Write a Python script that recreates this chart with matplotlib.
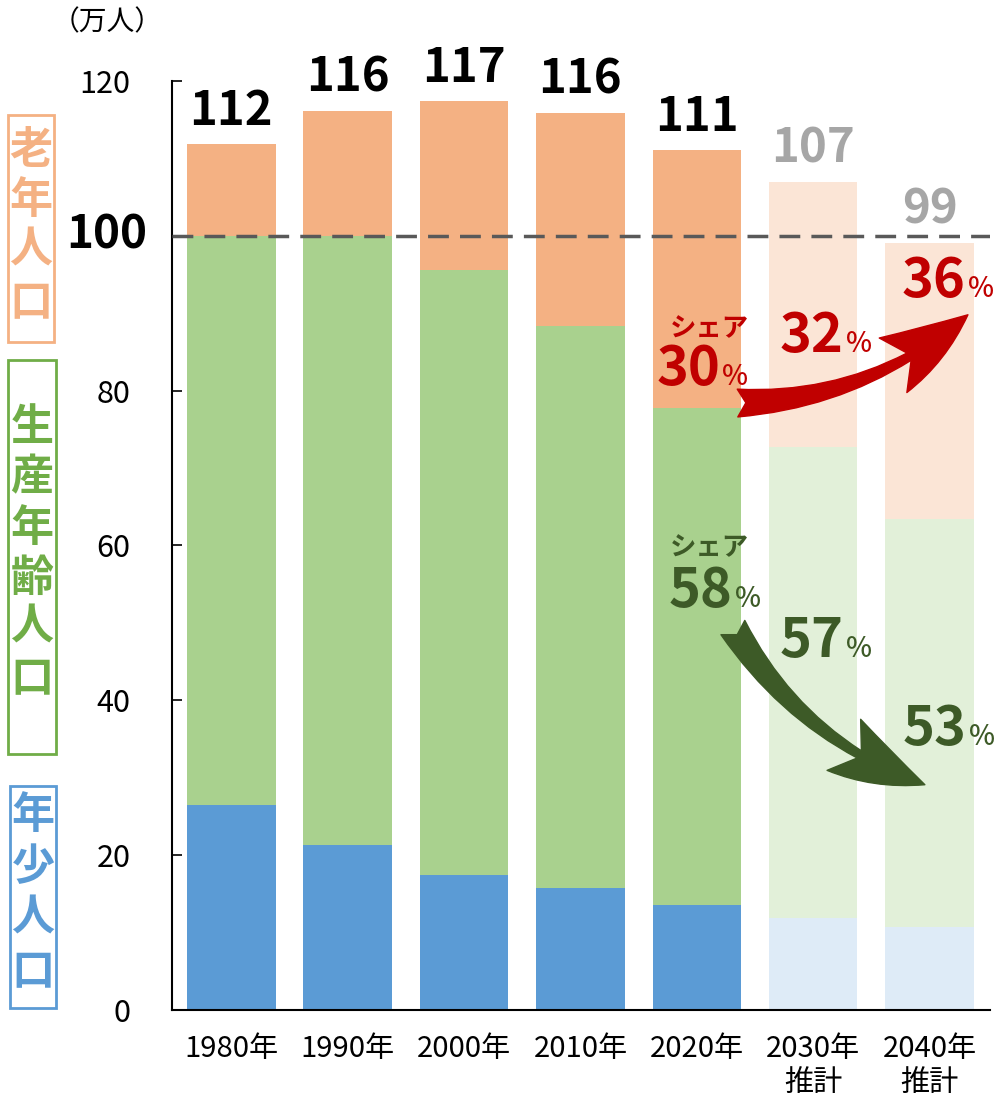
import numpy as np
import matplotlib.pyplot as plt
from matplotlib.patches import FancyArrowPatch, Rectangle, ArrowStyle

plt.rcParams['font.family'] = ['Noto Sans CJK JP', 'DejaVu Sans']

# data (万人)
years = ['1980年', '1990年', '2000年', '2010年', '2020年', '2030年\n推計', '2040年\n推計']
young = [26.5, 21.3, 17.4, 15.8, 13.6, 11.9, 10.7]
working = [73.5, 78.7, 78.2, 72.6, 64.2, 60.8, 52.7]
old = [11.8, 16.1, 21.8, 27.5, 33.3, 34.3, 35.7]
totals = [112, 116, 117, 116, 111, 107, 99]
share_idx = [4, 5, 6]
share_old = [30, 32, 36]
share_work = [58, 57, 53]

# colours: actual / projection
c_old = ['#F4B183'] * 5 + ['#FBE5D6'] * 2
c_work = ['#A9D18E'] * 5 + ['#E2F0D9'] * 2
c_young = ['#5B9BD5'] * 5 + ['#DEEBF7'] * 2
c_total = ['black'] * 5 + ['#A6A6A6'] * 2
red = '#C00000'
dgreen = '#3D5A27'

fig = plt.figure(figsize=(9.96, 11.02), dpi=100)
ax = fig.add_axes([0.1727, 0.0835, 0.8213, 0.843])

x = np.arange(len(years))
young = np.array(young)
working = np.array(working)
old = np.array(old)
ax.bar(x, young, width=0.76, color=c_young, zorder=2)
ax.bar(x, working, width=0.76, bottom=young, color=c_work, zorder=2)
ax.bar(x, old, width=0.76, bottom=young + working, color=c_old, zorder=2)

tops = young + working + old
for i in range(len(x)):
    ax.text(x[i], tops[i] + 2.5, str(totals[i]), ha='center', va='baseline',
            fontsize=34, fontweight='bold', color=c_total[i])

ax.axhline(100, color='#595959', lw=2.5, dashes=(6, 3.2), zorder=3)

ax.set_xlim(-0.51, 6.52)
ax.set_ylim(0, 120)
ax.spines['top'].set_visible(False)
ax.spines['right'].set_visible(False)
ax.spines['left'].set_linewidth(1.5)
ax.spines['bottom'].set_linewidth(1.5)

yt = list(range(0, 121, 20))
ax.set_yticks(yt)
ax.set_yticklabels(['' if v == 100 else str(v) for v in yt], fontsize=22)
ax.tick_params(axis='y', direction='in', length=7, width=1.2, pad=30)
ax.set_xticks(x)
ax.set_xticklabels(years, fontsize=21, linespacing=1.2)
ax.tick_params(axis='x', length=0, pad=17)

# bold 100 label
ax.text(-0.72, 100, '100', ha='right', va='center', fontsize=33, fontweight='bold',
        clip_on=False)
fig.text(107 / 996, 1 - 22 / 1102, '（万人）', ha='center', va='center', fontsize=20)

# share texts
old_base = [80.7, 85.0, 92.1]
work_base = [52.1, 45.6, 34.2]
old_right = [4.20, 5.26, 6.31]
work_right = [4.31, 5.26, 6.32]
for k in range(len(share_idx)):
    ax.text(old_right[k], old_base[k], str(share_old[k]), ha='right', va='baseline',
            fontsize=39, fontweight='bold', color=red, zorder=5)
    ax.text(old_right[k] + 0.02, old_base[k], '%', ha='left', va='baseline',
            fontsize=20, fontweight='medium', color=red, zorder=5)
    ax.text(work_right[k], work_base[k], str(share_work[k]), ha='right', va='baseline',
            fontsize=39, fontweight='bold', color=dgreen, zorder=5)
    ax.text(work_right[k] + 0.02, work_base[k], '%', ha='left', va='baseline',
            fontsize=20, fontweight='medium', color=dgreen, zorder=5)
ax.text(4.11, 87.0, 'シェア', ha='center', va='baseline', fontsize=19, fontweight='bold', color=red)
ax.text(4.11, 58.8, 'シェア', ha='center', va='baseline', fontsize=19, fontweight='bold', color=dgreen)

# trend arrows
style = ArrowStyle.Fancy(head_length=6.5, head_width=4.4, tail_width=2.0)
ax.add_patch(FancyArrowPatch((4.35, 78.4), (6.33, 89.8), arrowstyle=style,
                             connectionstyle='arc3,rad=0.18', mutation_scale=10,
                             color=red, shrinkA=0, shrinkB=0, zorder=4))
ax.add_patch(FancyArrowPatch((4.31, 49.4), (5.96, 29.1), arrowstyle=style,
                             connectionstyle='arc3,rad=0.18', mutation_scale=10,
                             color=dgreen, shrinkA=0, shrinkB=0, zorder=4))

# left-side category labels in boxes
groups = [
    ('老年人口', '#F4B183', (8, 115, 54, 342), [150, 200, 250, 303], 31),
    ('生産年齢人口', '#70AD47', (8, 360, 56, 754), [427, 477, 528, 578, 627, 679], 32),
    ('年少人口', '#5B9BD5', (10, 786, 56, 1008), [815, 867, 918, 972], 33),
]
for label, col, (x0, y0, x1, y1), ys, xc in groups:
    fig.add_artist(Rectangle((x0 / 996, 1 - y1 / 1102), (x1 - x0) / 996, (y1 - y0) / 1102,
                             transform=fig.transFigure, fill=False, edgecolor=col, lw=2))
    for ch, yy in zip(label, ys):
        fig.text(xc / 996, 1 - yy / 1102, ch, ha='center', va='center',
                 fontsize=31, fontweight='bold', color=col)

fig.savefig('out.png', dpi=100)
